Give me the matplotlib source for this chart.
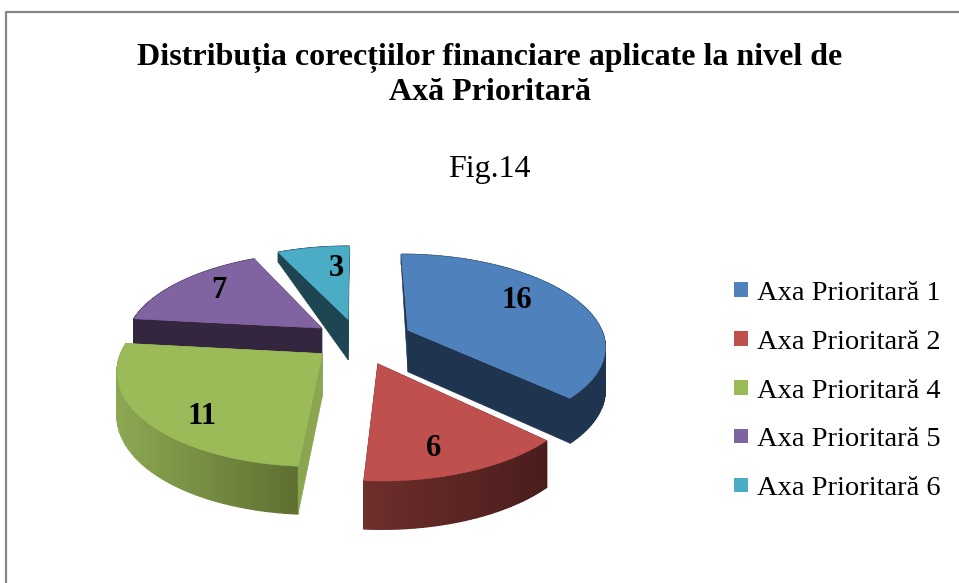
import numpy as np
import matplotlib
matplotlib.use("Agg")
import matplotlib.pyplot as plt
from matplotlib.patches import Polygon, Patch
from matplotlib.lines import Line2D
from matplotlib.colors import to_rgb

# ---- data
categories = ["Axa Prioritară 1", "Axa Prioritară 2", "Axa Prioritară 4", "Axa Prioritară 5", "Axa Prioritară 6"]
values = [16, 6, 11, 7, 3]
title_lines = ["Distribuția corecțiilor financiare aplicate la nivel de", "Axă Prioritară"]
subtitle_text = "Fig.14"

# ---- styles
top_colors = ["#4F81BD", "#C0504D", "#9BBB59", "#8064A2", "#4BACC6"]
wall_left = ["#1F344F", "#6E2E2C", "#8CA852", "#35263F", "#1D4552"]
wall_right = ["#1F344F", "#4A1D1C", "#5E6F31", "#35263F", "#1D4552"]
radial_colors = ["#1F344F", "#4A1D1C", "#8AA64F", "#35263F", "#1D4552"]
explode = [0.28, 0.27, 0.23, 0.23, 0.24]
draw_order = [4, 3, 0, 2, 1]
label_xy = [(517, 300), (434, 449), (202, 417), (219, 291), (336, 269)]

CX, CY, RX, RY, PERSP = 358, 340, 197, 90.6, 0.156

plt.rcParams["font.family"] = ["Liberation Serif", "DejaVu Serif"]
fig = plt.figure(figsize=(9.59, 5.83), dpi=100, facecolor="white")
ax = fig.add_axes([0, 0, 1, 1])
ax.set_xlim(0, 959)
ax.set_ylim(583, 0)
ax.axis("off")


def project(X, Z):
    s = 1.0 / (1.0 + PERSP * Z)
    return CX + RX * X * s, CY - RY * Z * s


def wall_height(Z):
    Z = np.asarray(Z, float)
    return np.clip(np.where(Z < 0, 42 - 5 * Z, 42 - 30 * Z ** 2), 10, None)


vals = np.array(values, float)
edges = np.concatenate([[0], np.cumsum(vals)]) / vals.sum() * 2 * np.pi


def mix(a, b, t):
    a, b = np.array(to_rgb(a)), np.array(to_rgb(b))
    return tuple(a + (b - a) * t)


def draw_slice(i):
    t0, t1 = edges[i], edges[i + 1]
    mid = (t0 + t1) / 2
    ox, oz = explode[i] * np.sin(mid), explode[i] * np.cos(mid)
    th = np.linspace(t0, t1, 80)
    wx, wz = ox + np.sin(th), oz + np.cos(th)
    x, y = project(wx, wz)
    h = wall_height(wz)
    apx, apy = project(ox, oz)
    aph = float(wall_height(oz))

    def radial(k):
        ax.add_patch(Polygon([(apx, apy), (x[k], y[k]), (x[k], y[k] + h[k]), (apx, apy + aph)],
                             closed=True, fc=radial_colors[i], ec=radial_colors[i], lw=0.4))

    front_start = np.sin(t0) < -1e-6
    front_end = np.sin(t1) > 1e-6
    if not front_start:
        radial(0)
    if not front_end:
        radial(-1)
    # outer wall, shaded in narrow strips along the rim
    xmin, xmax = x.min(), x.max()
    for j in range(len(th) - 1):
        f = ((x[j] + x[j + 1]) / 2 - xmin) / max(xmax - xmin, 1)
        c = mix(wall_left[i], wall_right[i], f)
        ax.add_patch(Polygon([(x[j], y[j]), (x[j + 1], y[j + 1]),
                              (x[j + 1], y[j + 1] + h[j + 1]), (x[j], y[j] + h[j])],
                             closed=True, fc=c, ec=c, lw=1.0))
    if front_start:
        radial(0)
    if front_end:
        radial(-1)
    # top face
    ax.add_patch(Polygon(np.column_stack([np.r_[apx, x], np.r_[apy, y]]),
                         closed=True, fc=top_colors[i], ec=top_colors[i], lw=0.4))


for i in draw_order:
    draw_slice(i)

for v, (lx, ly) in zip(values, label_xy):
    ax.text(lx, ly, str(v), fontsize=22, fontweight="bold", ha="center", va="center", color="black")

ax.text(490, 58, title_lines[0], fontsize=23, fontweight="bold", ha="center", va="center", color="black")
ax.text(490, 92, title_lines[1], fontsize=23, fontweight="bold", ha="center", va="center", color="black")
ax.text(489, 170, subtitle_text, fontsize=23, ha="center", va="center", color="black")

# chart frame (top and left edges only, as cropped in the source image)
ax.add_line(Line2D([6, 6, 959], [583, 12, 12], color="#868686", lw=1.6))

handles = [Patch(fc=c, ec="none") for c in top_colors]
ax.legend(handles, categories, loc="center left", bbox_to_anchor=(734 / 959, 1 - 391 / 583),
          frameon=False, fontsize=20.5, handlelength=0.49, handleheight=0.4,
          handletextpad=0.32, labelspacing=0.84, borderpad=0, borderaxespad=0)

fig.savefig("out.png", dpi=100)
